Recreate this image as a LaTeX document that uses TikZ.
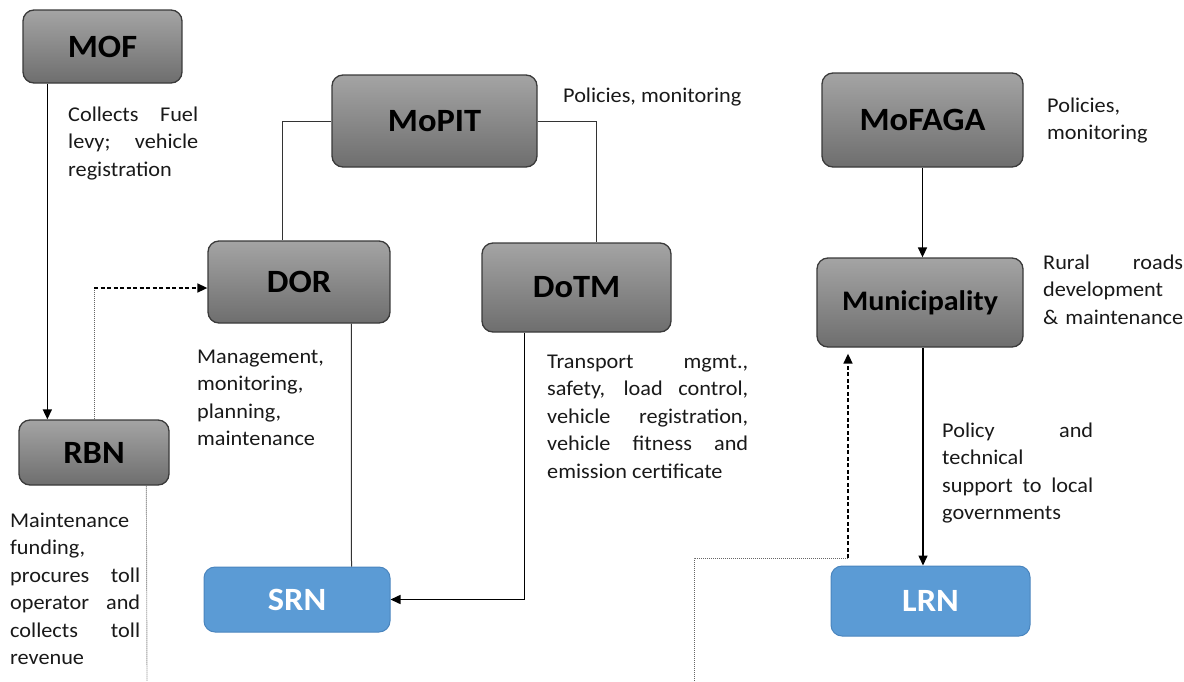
\documentclass[tikz,border=0pt]{standalone}
\usepackage{fontspec}
\setmainfont[FakeStretch=1.06]{Carlito}
\usetikzlibrary{arrows.meta}
\definecolor{boxtop}{HTML}{A4A4A4}
\definecolor{boxbot}{HTML}{6E6E6E}
\definecolor{boxline}{HTML}{3A3A3A}
\definecolor{blueFill}{HTML}{5B9BD5}
\definecolor{blueLine}{HTML}{4A85BE}
\newcommand{\jl}[2]{\makebox[#1][s]{#2}}
\tikzset{
  graybox/.style={draw=boxline, line width=1.3pt, rounded corners=11pt, top color=boxtop, bottom color=boxbot, font=\fontsize{32.5}{36}\selectfont\bfseries, text=black, inner sep=0pt},
  bluebox/.style={draw=blueLine, line width=1pt, rounded corners=11pt, fill=blueFill, font=\fontsize{32.5}{36}\selectfont\bfseries, text=white, inner sep=0pt},
  txt/.style={anchor=base west, inner sep=0pt, font=\fontsize{21}{27.5}\selectfont, text=black!90},
  link/.style={draw=black!80, line width=1pt},
  arr/.style={draw=black, line width=1.5pt, -{Triangle[length=10pt,width=9pt]}},
  dotln/.style={draw=black!60, line width=0.9pt, dash pattern=on 1pt off 1pt},
  dasharr/.style={draw=black, line width=1.6pt, dash pattern=on 4pt off 2.5pt, -{Triangle[length=10pt,width=9pt]}}
}
\begin{document}
\begin{tikzpicture}[x=1pt, y=-1pt]
\useasboundingbox (0,0) rectangle (1184,681);
% boxes
\node[graybox, minimum width=159pt, minimum height=73pt] (mof) at (102.5,46.5) {MOF};
\node[graybox, minimum width=150pt, minimum height=65pt] (rbn) at (94,452.5) {RBN};
\node[graybox, minimum width=182pt, minimum height=82pt] (dor) at (299,282) {DOR};
\node[graybox, minimum width=205pt, minimum height=92pt] (mopit) at (434.5,121) {MoPIT};
\node[graybox, minimum width=189pt, minimum height=89pt] (dotm) at (576.5,287.5) {DoTM};
\node[bluebox, minimum width=186pt, minimum height=65pt] (srn) at (297,599.5) {SRN};
\node[graybox, minimum width=201pt, minimum height=94pt] (mofaga) at (922.5,120) {MoFAGA};
\node[graybox, minimum width=206pt, minimum height=89pt, font=\fontsize{28.3}{32}\selectfont\bfseries] (muni) at (920,302.5) {Municipality};
\node[bluebox, minimum width=199pt, minimum height=70pt] (lrn) at (930.5,601) {LRN};
% texts
\node[txt] (t1) at (68,121) {\parbox[t]{130pt}{\jl{130pt}{Collects Fuel}\\\jl{130pt}{levy; vehicle}\\registration}};
\node[txt] (t2) at (563,102) {Policies, monitoring};
\node[txt] (t3) at (1047,112) {\parbox[t]{130pt}{Policies,\\monitoring}};
\node[txt] (t4) at (1043,269) {\parbox[t]{140pt}{\jl{140pt}{Rural roads}\\development\\\jl{140pt}{\& maintenance}}};
\node[txt] (t5) at (197,363) {\parbox[t]{140pt}{Management,\\monitoring,\\planning,\\maintenance}};
\node[txt] (t6) at (547,368) {\parbox[t]{201pt}{\jl{201pt}{Transport mgmt.,}\\\jl{201pt}{safety, load control,}\\\jl{201pt}{vehicle registration,}\\\jl{201pt}{vehicle fitness and}\\emission certificate}};
\node[txt] (t7) at (942,437) {\parbox[t]{151pt}{\jl{151pt}{Policy and}\\technical\\\jl{151pt}{support to local}\\governments}};
\node[txt] (t8) at (10,527) {\parbox[t]{130pt}{Maintenance\\funding,\\\jl{130pt}{procures toll}\\\jl{130pt}{operator and}\\\jl{130pt}{collects toll}\\revenue}};
% coordinates
\coordinate (c1) at (94,288);
\coordinate (c2) at (694,558);
\coordinate (c3) at (848,558);
\coordinate (c4) at (694,681);
\coordinate (c5) at (147,681);
% connectors
\draw[arr] ([xshift=25pt]mof.south west) -- ([xshift=29pt]rbn.north west);
\draw[dotln] (rbn.north) -- (c1);
\draw[dasharr] (c1) -- (dor.west |- c1);
\draw[link] (mopit.west) -| ([xshift=75pt]dor.north west);
\draw[link] (mopit.east) -| ([xshift=115pt]dotm.north west);
\draw[link] ([xshift=144pt]dor.south west) -- ([xshift=148pt]srn.north west);
\draw[arr] ([xshift=43pt]dotm.south west) |- (srn.east);
\draw[arr] (mofaga.south) -- (mofaga.south |- muni.north);
\draw[arr] ([xshift=3pt]muni.south) -- ([xshift=3pt]muni.south |- lrn.north);
\draw[dotln] ([xshift=128pt]rbn.south west) -- (c5);
\draw[dotln] (c4) -- (c2) -- (c3);
\draw[dasharr] (c3) -- ([yshift=-6pt]muni.south -| c3);
\end{tikzpicture}
\end{document}
